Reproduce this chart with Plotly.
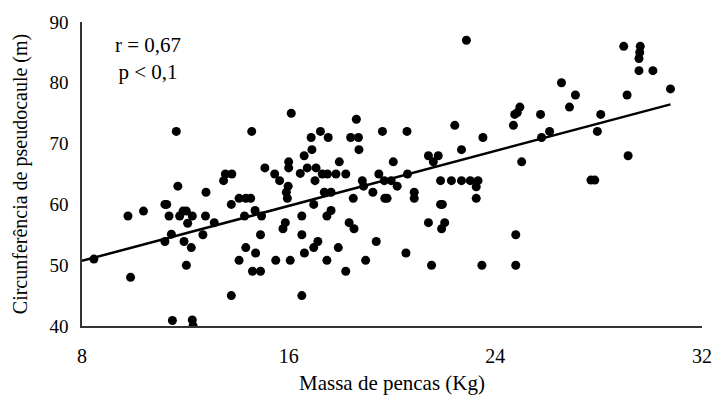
import numpy as np
import plotly.graph_objects as go

massa = [8.46, 9.88, 9.78, 10.38, 11.21, 11.28, 11.71, 11.65, 12.8, 13.48, 13.55, 13.8,
         11.37, 11.78, 11.91, 12.04, 12.27, 12.78, 12.09, 13.12, 13.78, 11.46, 11.21, 11.95,
         12.23, 12.68, 12.04, 13.78, 11.5, 12.27, 12.3,
         14.57, 16.1, 18.62, 17.23, 16.87, 17.53, 18.4, 18.7, 19.63, 16.9, 18.72, 16.6, 16.0,
         16.0, 17.96, 20.05, 15.08, 15.46, 16.45, 16.72, 17.06, 17.3, 17.5, 17.83, 18.21, 19.49,
         14.08, 14.34, 14.53, 14.29, 14.7, 14.95, 14.91, 14.34, 14.72, 14.08, 14.6, 14.91, 15.5,
         16.06, 16.61, 16.51, 16.51, 15.78, 15.87, 16.97, 17.13, 17.48, 17.92, 18.21, 17.48,
         17.64, 18.34, 18.53, 18.98, 19.39, 16.97, 17.38, 17.64, 18.5, 19.26, 19.72, 18.85,
         18.9, 19.7, 19.97, 20.2, 15.98, 15.91, 15.95, 17.02, 15.65, 16.51,
         22.88, 24.95, 24.85, 24.75, 25.75, 24.7, 20.58, 22.43, 23.52, 25.79, 22.69, 21.41,
         21.79, 21.6, 25.02, 20.6, 21.88, 22.3, 22.69, 23.03, 23.33, 23.26, 23.26, 20.86, 20.86,
         19.81, 21.88, 21.95, 21.41, 22.04, 21.92, 24.79, 20.54, 21.53, 23.48, 24.79,
         28.97, 29.61, 29.59, 29.56, 29.56, 30.1, 26.56, 27.1, 26.87, 29.1, 30.78, 28.08, 26.1,
         27.95, 29.14, 27.7, 27.85]

circunferencia = [51, 48, 58.1, 58.9, 60, 60, 63, 72, 62, 63.9, 65, 65,
                  58.1, 58.1, 58.9, 58.9, 58.1, 58.1, 56.9, 57, 60, 55.1, 53.9, 53.9,
                  52.9, 55, 50, 45, 40.9, 41, 40.05,
                  72, 75, 74, 72, 71, 71, 71, 71, 72, 69, 69, 68, 67,
                  66, 67, 67, 66, 65, 65.1, 66, 66, 65, 65, 65, 65, 65,
                  61, 61, 61, 58.1, 59, 58.1, 55, 52.9, 52, 50.8, 49, 49, 50.8,
                  50.8, 52, 55, 58.1, 56, 57, 52.9, 53.9, 50.8, 52.9, 49, 58.1,
                  59, 57, 56, 50.8, 53.9, 60, 62, 62, 61, 62, 61, 63.9,
                  63, 63.9, 63.9, 63, 63, 62, 61, 63.9, 63.9, 45,
                  87, 76, 75.1, 74.8, 74.8, 73, 72, 73, 71, 71, 69, 68,
                  68, 67, 67, 65, 63.9, 63.9, 63.9, 63.9, 63.9, 62.9, 61, 62, 61,
                  61, 60, 60, 57, 57, 56, 55, 52, 50, 50, 50,
                  86, 86, 85, 84, 82, 82, 80, 78, 76, 78, 79, 74.8, 72,
                  72, 68, 64, 64]

x_ticks = [8, 16, 24, 32]
y_ticks = [40, 50, 60, 70, 80, 90]

xa = np.array(massa)
ya = np.array(circunferencia)
slope, intercept = np.polyfit(xa, ya, 1)
x_line = np.array([8.0, xa.max()])
y_line = slope * x_line + intercept

font = "Liberation Serif, Times New Roman, serif"

fig = go.Figure()
fig.add_trace(go.Scatter(x=massa, y=circunferencia, mode="markers",
                         marker=dict(color="black", size=9), showlegend=False))
fig.add_trace(go.Scatter(x=x_line, y=y_line, mode="lines",
                         line=dict(color="black", width=2.5), showlegend=False))

fig.add_annotation(x=0.106, y=0.88, xref="paper", yref="paper", showarrow=False,
                   xanchor="center", yanchor="middle",
                   text="r = 0,67<br>p < 0,1", align="center",
                   font=dict(family=font, size=21, color="black"))

fig.update_layout(
    width=724, height=403,
    margin=dict(l=82, r=16, t=17, b=77),
    paper_bgcolor="white", plot_bgcolor="white",
    font=dict(family=font, size=19, color="black"),
    xaxis=dict(range=[8, 32], tickvals=x_ticks, showgrid=False, zeroline=False,
               showline=True, linecolor="#333333", linewidth=1.5, ticks="",
               ticklabelstandoff=11, tickfont=dict(size=20),
               title=dict(text="Massa de pencas (Kg)", font=dict(size=21), standoff=10)),
    yaxis=dict(range=[40, 90], tickvals=y_ticks, showgrid=False, zeroline=False,
               showline=True, linecolor="#333333", linewidth=1.5, ticks="",
               ticklabelstandoff=8, tickfont=dict(size=19),
               title=dict(text="Circunferência de pseudocaule (m)", font=dict(size=20), standoff=16)),
)

fig.write_html("out.html")
